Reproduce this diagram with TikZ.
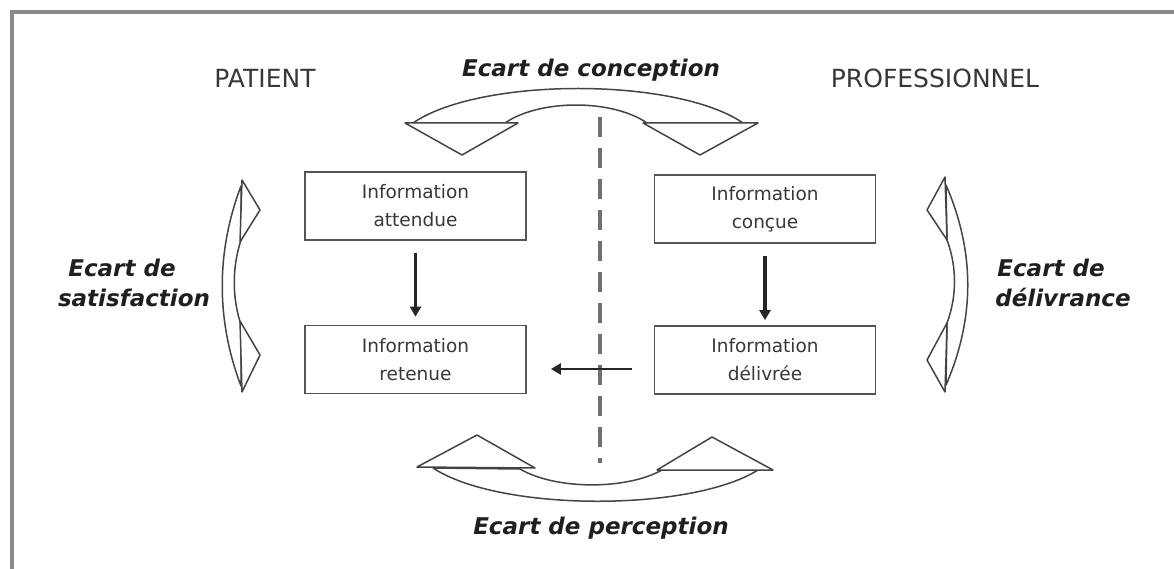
\documentclass[tikz,border=0pt]{standalone}
\usepackage{fontspec}
\setmainfont{DejaVu Sans}
\usetikzlibrary{arrows.meta}
\definecolor{framegray}{HTML}{8A8A8A}
\definecolor{boxgray}{HTML}{555555}
\definecolor{txtgray}{HTML}{383838}
\definecolor{shapegray}{HTML}{444444}
\definecolor{dashgray}{HTML}{707070}
\tikzset{
  infobox/.style={draw=boxgray, line width=1.8pt, minimum width=221pt, minimum height=68pt,
    align=center, inner sep=0pt, text=txtgray, font=\fontsize{18.5}{28}\selectfont},
  sidelabel/.style={text=txtgray, font=\fontsize{25}{30}\selectfont, inner sep=0pt},
  ecart/.style={text=black!88, font=\fontsize{23}{30}\selectfont\bfseries\itshape, inner sep=0pt, align=center},
  bigarrow/.style={draw=shapegray, line width=1.5pt, fill=white, line join=round},
  flow/.style={draw=black!85, line width=3.5pt, -{Triangle[length=10pt,width=11pt]}},
}
\begin{document}
\begin{tikzpicture}[x=1pt,y=-1pt]
\useasboundingbox (0,0) rectangle (1174,569);
\fill[white] (0,0) rectangle (1174,569);
% frame
\draw[framegray, line width=4pt] (12,569) -- (12,12) -- (1174,12);

% labels
\node[sidelabel] (patient) at (265,78) {PATIENT};
\node[sidelabel] (prof) at (935,78) {PROFESSIONNEL};
\node[ecart] (conc) at (591,70) {Ecart de conception};
\node[ecart] (perc) at (601,528) {Ecart de perception};
\node[ecart] (satis) at (134,283) {Ecart de\hspace*{24pt}\\satisfaction};
\node[ecart] (deliv) at (1063,283) {Ecart de\hspace*{24pt}\\délivrance};

% dashed separator
\draw[dashgray, line width=4pt, dash pattern=on 20pt off 11pt] (600,117) -- (600,463);

% boxes
\node[infobox] (att) at (415.5,206) {Information\\attendue};
\node[infobox] (ret) at (415.5,359.5) {Information\\retenue};
\node[infobox] (con) at (765,209) {Information\\conçue};
\node[infobox] (del) at (765,360) {Information\\délivrée};

% flows
\draw[flow, shorten <=12pt, shorten >=8pt] (att.south) -- (ret.north);
\draw[flow, shorten <=12pt, shorten >=5pt] (con.south) -- (del.north);
\draw[flow, line width=2.8pt, shorten <=22pt, shorten >=24pt] (del.west |- 0,369) -- (ret.east |- 0,369);

% top curved arrow (conception)
\draw[bigarrow] (413,123) .. controls (480,77) and (676,77) .. (743,123) -- (647,123)
   .. controls (612,99) and (540,99) .. (505,123) -- cycle;
\draw[bigarrow] (405,123) -- (462,155) -- (518,123) -- cycle;
\draw[bigarrow] (643,123) -- (700,155) -- (758,123) -- cycle;

% bottom curved arrow (perception)
\draw[bigarrow] (433,468) .. controls (500,512) and (691,512) .. (758,470) -- (662,470)
   .. controls (626,490) and (556,490) .. (520,469) -- cycle;
\draw[bigarrow] (417,467) -- (477,435) -- (535,468) -- cycle;
\draw[bigarrow] (657,470) -- (712,437) -- (773,470) -- cycle;

% left vertical arrow (satisfaction)
\draw[bigarrow] (241,186) .. controls (216,252) and (216,320) .. (241,386) -- (241,325)
   .. controls (232,297) and (232,268) .. (241,240) -- cycle;
\draw[bigarrow] (242,180) -- (260,210) -- (240,242) -- cycle;
\draw[bigarrow] (240,321) -- (260,355) -- (242,392) -- cycle;

% right vertical arrow (delivrance)
\draw[bigarrow] (946,185) .. controls (975,252) and (975,318) .. (946,385) -- (947,323)
   .. controls (957,296) and (957,267) .. (947,240) -- cycle;
\draw[bigarrow] (945,177) -- (927,210) -- (947,240) -- cycle;
\draw[bigarrow] (947,323) -- (927,360) -- (945,392) -- cycle;
\end{tikzpicture}
\end{document}
